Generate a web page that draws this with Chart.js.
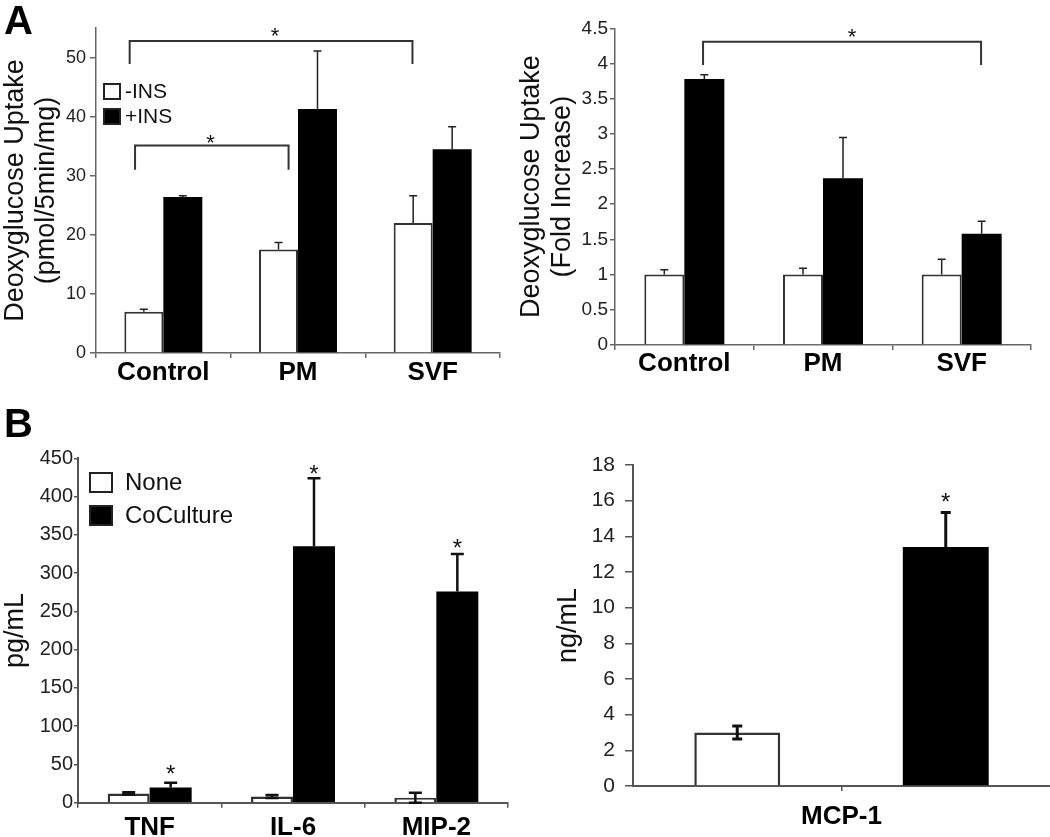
<!DOCTYPE html>
<html><head><meta charset="utf-8">
<script src="https://cdn.jsdelivr.net/npm/chart.js@4"></script>
<style>
html,body{margin:0;padding:0;background:#fff;}
body{width:1050px;height:837px;position:relative;overflow:hidden;font-family:"Liberation Sans",Arial,sans-serif;}
canvas{position:absolute;}
.lbl{position:absolute;font-weight:bold;font-size:40px;line-height:40px;color:#000;font-family:"Liberation Sans",Arial,sans-serif;}
</style></head><body>
<canvas id="c1" width="515" height="400" style="left:0;top:0"></canvas>
<canvas id="c2" width="534" height="400" style="left:516px;top:0"></canvas>
<canvas id="c3" width="520" height="397" style="left:0;top:440px"></canvas>
<canvas id="c4" width="520" height="397" style="left:530px;top:440px"></canvas>
<div class="lbl" style="left:4px;top:0px">A</div>
<div class="lbl" style="left:4px;top:403px">B</div>
<script>
// ---------- data ----------
const uptakeCategories = ['Control', 'PM', 'SVF'];
const uptakeSeriesNames = ['-INS', '+INS'];
const uptakeNoIns = [7.0, 17.5, 22.0];
const uptakeNoInsErr = [0.4, 1.2, 4.6];
const uptakeIns = [26.4, 41.3, 34.5];
const uptakeInsErr = [0.2, 9.8, 3.8];
const uptakeAxisMax = 55, uptakeAxisStep = 10;
const uptakeTitle = ['Deoxyglucose Uptake', '(pmol/5min/mg)'];
const uptakeBrackets = [
  {from: -0.25, to: 1.85, y: 52.8, leg: 48.9, star: 0.83, starY: 54.3},
  {from: -0.21, to: 0.93, y: 35.1, leg: 31.0, star: 0.35, starY: 36.2}
];

const foldCategories = ['Control', 'PM', 'SVF'];
const foldNoIns = [1.0, 1.0, 1.0];
const foldNoInsErr = [0.07, 0.09, 0.22];
const foldIns = [3.78, 2.37, 1.58];
const foldInsErr = [0.06, 0.58, 0.18];
const foldAxisMax = 4.5, foldAxisStep = 0.5;
const foldTitle = ['Deoxyglucose Uptake', '(Fold Increase)'];
const foldBrackets = [
  {from: 0.135, to: 2.14, y: 4.31, leg: 3.98, star: 1.21, starY: 4.43}
];

const cytokineCategories = ['TNF', 'IL-6', 'MIP-2'];
const cytokineSeriesNames = ['None', 'CoCulture'];
const cytokineNone = [12, 8, 6.5];
const cytokineNoneErr = [1.5, 2, 6.5];
const cytokineCo = [20, 335, 276];
const cytokineCoErr = [6, 89, 49];
const cytokineStars = [44, 436, 339];
const cytokineAxisMax = 450, cytokineAxisStep = 50;
const cytokineTitle = 'pg/mL';

const mcpCategories = ['MCP-1'];
const mcpNone = [3.0];
const mcpNoneErr = [0.37];
const mcpCo = [13.4];
const mcpCoErr = [1.94];
const mcpStars = [16.2];
const mcpAxisMax = 18, mcpAxisStep = 2;
const mcpTitle = 'ng/mL';

// ---------- plugins ----------
const FONT = '"Liberation Sans", Arial, sans-serif';

function drawStar(ctx, x, cy, size) {
  ctx.save();
  ctx.font = size + 'px ' + FONT;
  ctx.fillStyle = '#111';
  ctx.textAlign = 'center';
  ctx.textBaseline = 'alphabetic';
  const m = ctx.measureText('*');
  const base = cy + (m.actualBoundingBoxAscent - m.actualBoundingBoxDescent) / 2;
  ctx.fillText('*', x, base);
  ctx.restore();
}

const errorBars = {
  id: 'errorBars',
  afterDatasetsDraw(chart, args, opts) {
    const ctx = chart.ctx, ys = chart.scales.y;
    chart.data.datasets.forEach((ds, di) => {
      if (!ds.err) return;
      const meta = chart.getDatasetMeta(di);
      meta.data.forEach((el, i) => {
        const v = ds.data[i], e = ds.err[i];
        const top = ys.getPixelForValue(v + e);
        const bot = ds.errBoth ? ys.getPixelForValue(v - e) : el.y;
        const c = opts.cap / 2;
        ctx.save();
        ctx.strokeStyle = opts.color;
        ctx.lineWidth = opts.width;
        ctx.beginPath();
        ctx.moveTo(el.x, bot); ctx.lineTo(el.x, top);
        ctx.moveTo(el.x - c, top); ctx.lineTo(el.x + c, top);
        if (ds.errBoth) { ctx.moveTo(el.x - c, bot); ctx.lineTo(el.x + c, bot); }
        ctx.stroke();
        ctx.restore();
      });
    });
  }
};

const marks = {
  id: 'marks',
  afterDatasetsDraw(chart, args, opts) {
    const ctx = chart.ctx, xs = chart.scales.x, ys = chart.scales.y;
    ctx.save();
    ctx.strokeStyle = opts.color || '#333';
    ctx.lineWidth = opts.lineWidth || 2;
    ctx.lineJoin = 'miter';
    (opts.brackets || []).forEach(b => {
      const x1 = xs.getPixelForValue(b.from), x2 = xs.getPixelForValue(b.to);
      const yy = ys.getPixelForValue(b.y), yl = ys.getPixelForValue(b.leg);
      ctx.beginPath();
      ctx.moveTo(x1, yl); ctx.lineTo(x1, yy); ctx.lineTo(x2, yy); ctx.lineTo(x2, yl);
      ctx.stroke();
      drawStar(ctx, xs.getPixelForValue(b.star), ys.getPixelForValue(b.starY), opts.starSize);
    });
    (opts.stars || []).forEach((v, i) => {
      if (v == null) return;
      const el = chart.getDatasetMeta(1).data[i];
      drawStar(ctx, el.x, ys.getPixelForValue(v), opts.starSize);
    });
    ctx.restore();
  }
};

const boxLegend = {
  id: 'boxLegend',
  afterDraw(chart, args, opts) {
    if (!opts || !opts.show) return;
    const ctx = chart.ctx, ca = chart.chartArea;
    chart.data.datasets.forEach((ds, i) => {
      const x = ca.left + opts.x, y = ca.top + opts.y + i * opts.gap;
      ctx.save();
      ctx.fillStyle = ds.backgroundColor;
      ctx.fillRect(x, y, opts.w, opts.h);
      ctx.strokeStyle = '#222';
      ctx.lineWidth = 2;
      ctx.strokeRect(x + 1, y + 1, opts.w - 2, opts.h - 2);
      ctx.fillStyle = '#111';
      ctx.font = opts.size + 'px ' + FONT;
      ctx.textBaseline = 'middle';
      ctx.textAlign = 'left';
      ctx.fillText(ds.label, x + opts.w + opts.textGap, y + opts.h / 2 + 1);
      ctx.restore();
    });
  }
};

// ---------- builder ----------
function barChart(id, o) {
  return new Chart(document.getElementById(id), {
    type: 'bar',
    data: {
      labels: o.labels,
      datasets: [
        {label: o.names[0], data: o.a, err: o.aErr, errBoth: o.aBoth,
         backgroundColor: '#ffffff', borderColor: '#333', borderWidth: o.bw,
         categoryPercentage: o.cat, barPercentage: o.bar},
        {label: o.names[1], data: o.b, err: o.bErr,
         backgroundColor: '#000000', borderColor: '#000', borderWidth: 0,
         categoryPercentage: o.cat, barPercentage: o.bar}
      ]
    },
    options: {
      responsive: false, animation: false, devicePixelRatio: 1,
      layout: {padding: o.pad},
      plugins: {
        legend: {display: false}, tooltip: {enabled: false},
        errorBars: o.errStyle,
        marks: {brackets: o.brackets, stars: o.stars, starSize: o.starSize, lineWidth: 2, color: '#333'},
        boxLegend: o.legend || {show: false}
      },
      scales: {
        x: {
          grid: {offset: o.gridOffset, drawOnChartArea: false, tickLength: 5, color: o.axisColor, lineWidth: 1.5},
          border: {display: true, color: o.axisColor, width: o.axisWidth},
          ticks: {font: {family: FONT, size: o.xFont, weight: 'bold', lineHeight: 1}, color: '#000', padding: o.xPad},
          afterFit(s) { s.height = o.xH; }
        },
        y: {
          min: 0, max: o.max,
          ticks: {stepSize: o.step, includeBounds: false, font: {family: FONT, size: o.yFont}, color: '#222', padding: o.yPad,
                  callback: v => String(Number(v.toFixed(2)))},
          grid: {drawOnChartArea: false, tickLength: o.yTick, color: o.axisColor, lineWidth: 1.5},
          border: {display: true, color: o.axisColor, width: o.axisWidth},
          title: {display: true, text: o.title, color: '#111',
                  font: {family: FONT, size: o.titleSize, lineHeight: o.titleLH},
                  padding: {top: o.titlePad, bottom: 0}},
          afterFit(s) { s.width = o.yW; }
        }
      }
    },
    plugins: [errorBars, marks, boxLegend]
  });
}

barChart('c1', {
  labels: uptakeCategories, names: uptakeSeriesNames,
  a: uptakeNoIns, aErr: uptakeNoInsErr, b: uptakeIns, bErr: uptakeInsErr,
  bw: 2, cat: 0.579, bar: 1.0,
  pad: {left: 0, top: 28, right: 15, bottom: 7}, xH: 40, yW: 96,
  max: uptakeAxisMax, step: uptakeAxisStep,
  xFont: 26, xPad: 2, yFont: 18, yPad: 4, yTick: 6,
  title: uptakeTitle, titleSize: 27, titleLH: 31 / 27, titlePad: 0.5,
  axisColor: '#666', axisWidth: 1.5, gridOffset: true,
  errStyle: {color: '#222', width: 1.5, cap: 8},
  brackets: uptakeBrackets, starSize: 22,
  legend: {show: true, x: 7, y: 55, w: 18, h: 17, gap: 25, textGap: 4, size: 21}
});

barChart('c2', {
  labels: foldCategories, names: uptakeSeriesNames,
  a: foldNoIns, aErr: foldNoInsErr, b: foldIns, bErr: foldInsErr,
  bw: 2, cat: 0.577, bar: 1.0,
  pad: {left: 0, top: 28.3, right: 19, bottom: 15}, xH: 40, yW: 99,
  max: foldAxisMax, step: foldAxisStep,
  xFont: 26, xPad: 1, yFont: 19, yPad: 2, yTick: 5,
  title: foldTitle, titleSize: 27, titleLH: 31 / 27, titlePad: 0.5,
  axisColor: '#666', axisWidth: 1.5, gridOffset: true,
  errStyle: {color: '#222', width: 1.5, cap: 8},
  brackets: foldBrackets, starSize: 22
});

barChart('c3', {
  labels: cytokineCategories, names: cytokineSeriesNames,
  a: cytokineNone, aErr: cytokineNoneErr, aBoth: true, b: cytokineCo, bErr: cytokineCoErr,
  bw: 2.5, cat: 0.586, bar: 1.0,
  pad: {left: 0, top: 18.3, right: 12, bottom: 0.3}, xH: 34, yW: 78,
  max: cytokineAxisMax, step: cytokineAxisStep,
  xFont: 26, xPad: 7, yFont: 20, yPad: 1, yTick: 4,
  title: cytokineTitle, titleSize: 27, titleLH: 1, titlePad: 2.5,
  axisColor: '#555', axisWidth: 2, gridOffset: true,
  errStyle: {color: '#111', width: 2.5, cap: 13},
  stars: cytokineStars, starSize: 24,
  legend: {show: true, x: 11, y: 13.7, w: 24, h: 21, gap: 33, textGap: 12, size: 24}
});

barChart('c4', {
  labels: mcpCategories, names: cytokineSeriesNames,
  a: mcpNone, aErr: mcpNoneErr, aBoth: true, b: mcpCo, bErr: mcpCoErr,
  bw: 2.5, cat: 1.0, bar: 0.412,
  pad: {left: 0, top: 25, right: 0, bottom: 6}, xH: 45, yW: 103,
  max: mcpAxisMax, step: mcpAxisStep,
  xFont: 26, xPad: 13, yFont: 21, yPad: 10, yTick: 8,
  title: mcpTitle, titleSize: 27, titleLH: 1, titlePad: 25.5,
  axisColor: '#555', axisWidth: 2, gridOffset: false,
  errStyle: {color: '#111', width: 3, cap: 10},
  stars: mcpStars, starSize: 24
});
</script>
</body></html>
